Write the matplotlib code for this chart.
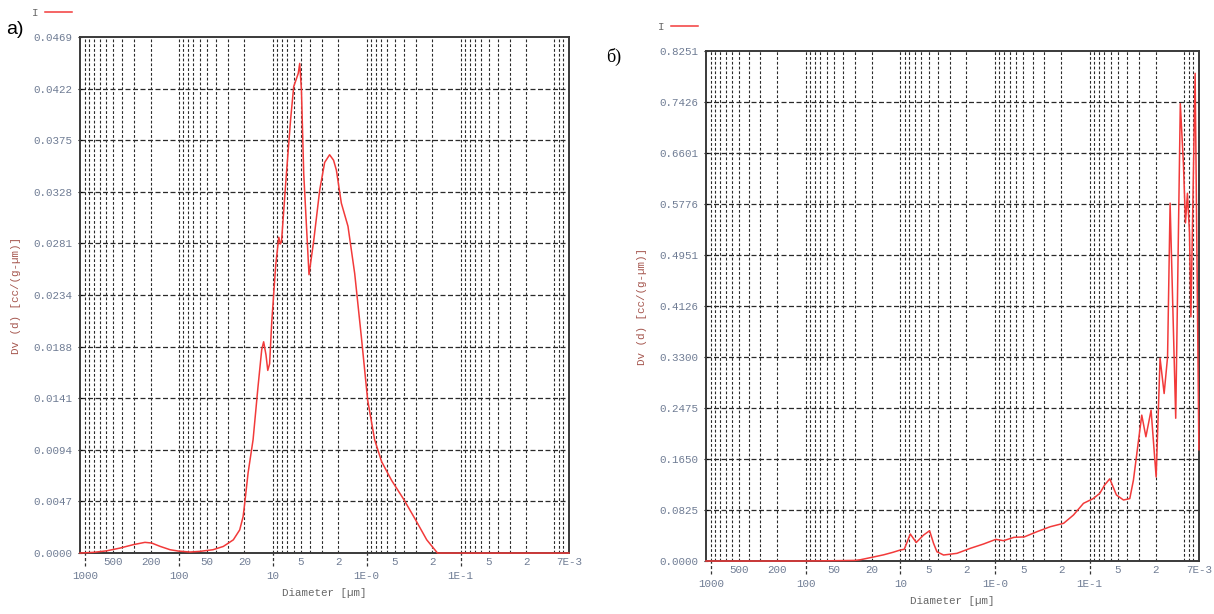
import numpy as np
import matplotlib.pyplot as plt

# панель а): диаметр (мкм) и Dv(d)
d_a = [1130, 816, 588, 424, 306, 230, 195, 159, 124, 101.6, 76.3, 59.8, 43.3,
       33.6, 26.3, 22.5, 20.7, 19.9, 18.3, 16.2, 14.4, 13.1, 12.5, 11.8, 11.3,
       10.8, 10.25, 9.29, 8.63, 8.3, 8.07, 7.15, 6.44, 5.98, 5.6, 5.35, 5.16,
       4.95, 4.68, 4.11, 3.66, 3.16, 2.8, 2.48, 2.25, 2.1, 1.86, 1.58, 1.34,
       1.14, 0.975, 0.822, 0.692, 0.542, 0.404, 0.305, 0.229, 0.176, 0.1,
       0.03, 0.007]
v_a = [0, 0.00006, 0.0002, 0.00045, 0.00076, 0.00097, 0.00091, 0.00061, 0.0003,
       0.00018, 0.00009, 0.00015, 0.0003, 0.0006, 0.0012, 0.0021, 0.0033,
       0.0045, 0.0073, 0.0103, 0.0150, 0.0185, 0.0192, 0.0180, 0.0166, 0.0172,
       0.0210, 0.0262, 0.0287, 0.0281, 0.0283, 0.0345, 0.0395, 0.0424, 0.0431,
       0.0436, 0.0445, 0.0421, 0.0345, 0.0253, 0.0284, 0.0330, 0.0355, 0.0362,
       0.0357, 0.0348, 0.0318, 0.0297, 0.0254, 0.0197, 0.0139, 0.0103, 0.0083,
       0.0066, 0.0049, 0.0031, 0.0012, 0.0, 0.0, 0.0, 0.0]

# панель б)
d_b = [1130, 100, 50, 30, 26.5, 19.9, 15, 12, 10, 9.07, 7.84, 6.78, 5.67, 4.90,
       4.45, 4.10, 3.49, 2.52, 1.82, 1.32, 0.98, 0.81, 0.63, 0.49, 0.36, 0.26,
       0.188, 0.148, 0.116, 0.0915, 0.078, 0.0693, 0.0612, 0.052, 0.0438,
       0.0376, 0.0344, 0.0281, 0.0254, 0.0224, 0.0198, 0.0180, 0.0163, 0.0150,
       0.0141, 0.0123, 0.0110, 0.0102, 0.0097, 0.00925, 0.0088, 0.0085,
       0.00767, 0.0070]
v_b = [0, 0, 0.0005, 0.001, 0.002, 0.006, 0.010, 0.014, 0.0178, 0.019, 0.0437,
       0.030, 0.042, 0.049, 0.0286, 0.015, 0.0097, 0.0124, 0.0205, 0.0275,
       0.035, 0.0329, 0.0383, 0.039, 0.0474, 0.0555, 0.061, 0.0744, 0.0933,
       0.101, 0.1095, 0.123, 0.133, 0.1068, 0.0987, 0.101, 0.131, 0.236, 0.201,
       0.244, 0.136, 0.328, 0.271, 0.330, 0.579, 0.231, 0.740, 0.643, 0.547,
       0.595, 0.531, 0.395, 0.789, 0.180]

ymax_a = 0.0469
ymax_b = 0.8251
ylab_a = ['0.0000', '0.0047', '0.0094', '0.0141', '0.0188', '0.0234', '0.0281',
          '0.0328', '0.0375', '0.0422', '0.0469']
ylab_b = ['0.0000', '0.0825', '0.1650', '0.2475', '0.3300', '0.4126', '0.4951',
          '0.5776', '0.6601', '0.7426', '0.8251']

major_x = [1000, 100, 10, 1, 0.1]
major_lbl = ['1000', '100', '10', '1E-0', '1E-1']
minor_x = [500, 200, 50, 20, 5, 2, 0.5, 0.2, 0.05, 0.02, 0.007]
minor_lbl = ['500', '200', '50', '20', '5', '2', '5', '2', '5', '2', '7E-3']

xmin, xmax = 1130, 0.00699
grid_x = [m * 10.0 ** k for k in range(-3, 4) for m in range(1, 10)]
grid_x = [x for x in grid_x if xmax < x < xmin]

red = '#f23a3a'
tick_col = '#6f7c94'
mono = 'Liberation Mono'
fs = 7.8

fig = plt.figure(figsize=(12.14, 6.14), dpi=100)


def panel(rect, d, v, ymax, ylabels):
    ax = fig.add_axes(rect)
    ax.plot(d, v, color=red, lw=1.1, zorder=4, clip_on=False, label='I')
    ax.set_xscale('log')
    ax.set_xlim(xmin, xmax)
    ax.set_ylim(0, ymax)

    yt = np.linspace(0, ymax, 11)
    for y in yt[1:-1]:
        ax.axhline(y, color='#2a2a2a', lw=0.9, ls=(0, (4, 2)), zorder=1)
    for x in grid_x:
        ax.axvline(x, color='#2a2a2a', lw=0.8, ls=(0, (2.5, 1.8)), zorder=1)

    ax.set_yticks(yt, ylabels)
    ax.tick_params(axis='y', length=3, direction='inout', pad=4,
                   labelsize=fs, labelcolor=tick_col)
    ax.set_xticks(major_x, major_lbl)
    ax.set_xticks(minor_x, minor_lbl, minor=True)
    ax.tick_params(axis='x', which='major', length=0, pad=13,
                   labelsize=fs, labelcolor=tick_col)
    ax.tick_params(axis='x', which='minor', length=0, pad=3,
                   labelsize=fs, labelcolor=tick_col)
    for lbl in ax.get_xticklabels(which='both') + ax.get_yticklabels():
        lbl.set_family(mono)

    # штрихи под осью на декадах
    ax.vlines(major_x, -0.025, 0, transform=ax.get_xaxis_transform(),
              colors='#333333', lw=0.9, linestyles=(0, (2.5, 1.8)),
              clip_on=False)

    for s in ax.spines.values():
        s.set_color('#3a3a3a')
        s.set_linewidth(1.4)

    ax.set_ylabel('Dv (d) [cc/(g-µm)]', color='#a5564e', fontsize=fs,
                  family=mono, labelpad=9)
    ax.set_xlabel('Diameter [µm]', color='#666666', fontsize=fs,
                  family=mono, labelpad=5)

    leg = ax.legend(loc='center left', bbox_to_anchor=(-0.098, 1.047),
                    frameon=False, markerfirst=False, handlelength=2.5,
                    handletextpad=0.6, borderpad=0, borderaxespad=0,
                    prop={'family': mono, 'size': fs})
    for t in leg.get_texts():
        t.set_color('#666666')
    return ax


panel([0.0659, 0.0993, 0.4028, 0.8404], d_a, v_a, ymax_a, ylab_a)
panel([0.5815, 0.0863, 0.4061, 0.8306], d_b, v_b, ymax_b, ylab_b)

fig.text(15 / 1214, 1 - 30 / 614, 'а)', fontsize=14, family='Liberation Sans',
         ha='center', va='center')
fig.text(614 / 1214, 1 - 57 / 614, 'б)', fontsize=13, family='Liberation Serif',
         ha='center', va='center')

fig.savefig('out.png', dpi=100)
